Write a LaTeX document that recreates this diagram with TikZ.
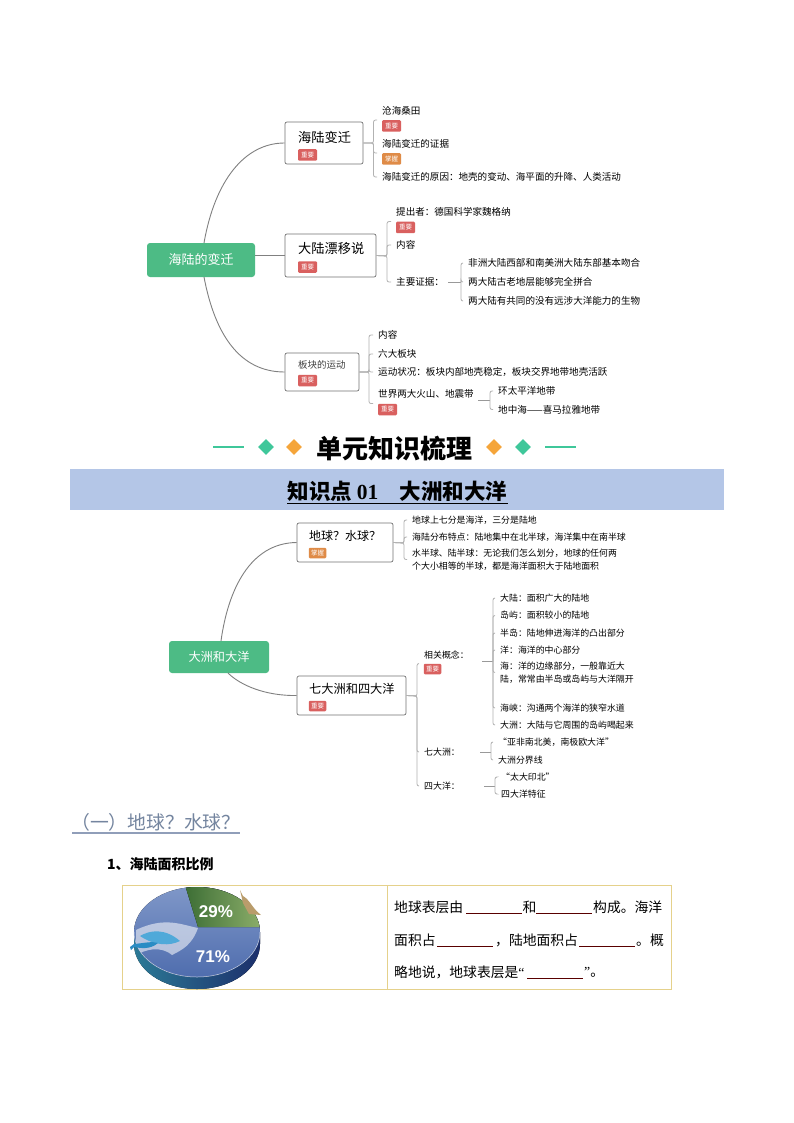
\documentclass[tikz,border=0pt]{standalone}
\usepackage{fontspec}
\usepackage{xcolor}
\setmainfont{Noto Sans CJK SC}
\newfontfamily\latinserif{Liberation Serif}
\newfontfamily\latinsans{Liberation Sans}
\usetikzlibrary{shapes.geometric, positioning}
\definecolor{rootgreen}{HTML}{4DBB85}
\definecolor{tagred}{HTML}{D9605F}
\definecolor{tagorange}{HTML}{DF8B47}
\definecolor{decogreen}{HTML}{3FC79A}
\definecolor{decoorange}{HTML}{F5A53A}
\definecolor{bandblue}{HTML}{B4C6E7}
\definecolor{tablegold}{HTML}{E5D18B}
\definecolor{slate}{HTML}{74859F}
\definecolor{seatop}{HTML}{7F97C8}
\definecolor{seamid}{HTML}{4F6DAE}
\definecolor{sidedark}{HTML}{1C2F6B}
\definecolor{sideteal}{HTML}{2C7A96}
\definecolor{forestdark}{HTML}{3D6E35}
\definecolor{forestlight}{HTML}{8CAE6A}
\definecolor{whalecol}{HTML}{4FA9D9}
\definecolor{dolphincol}{HTML}{2A8CC4}
\definecolor{roocol}{HTML}{B99C6B}
\newcommand{\fsz}[2]{\fontsize{#1}{#2}\selectfont}
\tikzset{
    rootbox/.style={fill=rootgreen, rounded corners=3pt, text=white, font=\fsz{13}{15}, inner sep=0pt},
    topicbox/.style={draw=black!55, fill=white, rounded corners=2pt, line width=0.7pt},
    topictext/.style={anchor=west, inner sep=0pt, font=\fsz{13.2}{16}},
    tag/.style={fill=tagred, rounded corners=1.2pt, text=white, font=\fsz{6.5}{7}, minimum width=19pt, minimum height=11.5pt, inner sep=0pt},
    tagb/.style={tag, minimum width=17.5pt, minimum height=10.5pt},
    item/.style={anchor=west, inner sep=0pt, font=\fsz{9.55}{13}, align=left},
    itemb/.style={item, font=\fsz{8.9}{13}},
    bough/.style={draw=black!50, line width=0.9pt},
    twig/.style={draw=black!30, line width=0.8pt, rounded corners=2pt, shorten >=5pt},
    stem/.style={draw=black!40, line width=0.8pt},
    tablerule/.style={draw=tablegold, line width=0.8pt},
    blank/.style={draw=red!35!black, line width=0.7pt},
    bodytext/.style={anchor=west, inner sep=0pt, font=\fsz{13.8}{16}},
    deco/.style={diamond, minimum width=16pt, minimum height=16pt, inner sep=0pt},
}

\begin{document}
\begin{tikzpicture}[x=1pt, y=-1pt]
    \useasboundingbox (0, 0) rectangle (794, 1123);
    \fill[white] (0, 0) rectangle (794, 1123);

    % first map
    \node[rootbox, minimum width=108pt, minimum height=34pt] (bian) at (201, 260) {海陆的变迁};
    \node[topicbox, minimum width=78pt, minimum height=42pt] (bq) at (324, 143) {};
    \node[topictext] (bqt) at (298, 137) {海陆变迁};
    \node[tag] (bqg) at (307.5, 155) {重要};
    \node[topicbox, minimum width=91pt, minimum height=43pt] (pl) at (330.5, 255.5) {};
    \node[topictext] (plt) at (298, 249) {大陆漂移说};
    \node[tag] (plg) at (307.5, 267) {重要};
    \node[topicbox, minimum width=74pt, minimum height=38pt] (bk) at (322, 372) {};
    \node[topictext, font=\fsz{9.5}{12}, text=black!75] (bkt) at (298, 365) {板块的运动};
    \node[tag] (bkg) at (307.5, 380.5) {重要};

    \draw[bough] (204, 243) .. controls (215, 180) and (245, 143) .. (bq.west);
    \draw[bough] (bian.east |- pl.west) -- (pl.west);
    \draw[bough] (204, 277) .. controls (215, 335) and (240, 372) .. (bk.west);

    \node[item] (a1) at (382, 111) {沧海桑田};
    \node[tag] (a1g) at (391.5, 126) {重要};
    \node[item] (a2) at (382, 144) {海陆变迁的证据};
    \node[tag, fill=tagorange] (a2g) at (391.5, 159) {掌握};
    \node[item] (a3) at (382, 177) {海陆变迁的原因：地壳的变动、海平面的升降、人类活动};
    \coordinate (abar) at (373.5, 143);
    \foreach \t in {a1g.north, a2g.north, a3.west} {
        \draw[twig] (bq.east) -- (abar) -- (abar |- \t) -- (382, 0 |- \t);
    }
    \node[item] (b1) at (396, 212) {提出者：德国科学家魏格纳};
    \node[tag] (b1g) at (405.5, 227.5) {重要};
    \node[item] (b2) at (396, 245) {内容};
    \node[item] (b3) at (396, 282) {主要证据：};
    \coordinate (bbar) at (387, 256);
    \foreach \t in {b1g.north, b2.west, b3.west} {
        \draw[twig] (pl.east) -- (bbar) -- (bbar |- \t) -- (396, 0 |- \t);
    }
    \node[item] (c1) at (468, 263) {非洲大陆西部和南美洲大陆东部基本吻合};
    \node[item] (c2) at (468, 282) {两大陆古老地层能够完全拼合};
    \node[item] (c3) at (468, 301) {两大陆有共同的没有远涉大洋能力的生物};
    \coordinate (cbar) at (461, 282);
    \draw[stem] (448, 282) -- (cbar);
    \foreach \t in {c1, c2, c3} {
        \draw[twig] (cbar) -- (cbar |- \t.west) -- (\t.west);
    }
    \node[item] (d1) at (378, 335) {内容};
    \node[item] (d2) at (378, 354) {六大板块};
    \node[item] (d3) at (378, 372) {运动状况：板块内部地壳稳定，板块交界地带地壳活跃};
    \node[item] (d4) at (378, 394) {世界两大火山、地震带};
    \node[tag] (d4g) at (387.5, 409.5) {重要};
    \coordinate (dbar) at (369, 372);
    \foreach \t in {d1.west, d2.west, d3.west, d4g.north} {
        \draw[twig] (bk.east) -- (dbar) -- (dbar |- \t) -- (378, 0 |- \t);
    }
    \node[item] (e1) at (498, 391) {环太平洋地带};
    \node[item] (e2) at (498, 409.5) {地中海——喜马拉雅地带};
    \coordinate (ebar) at (490, 400);
    \draw[stem] (478, 400) -- (ebar);
    \foreach \t in {e1, e2} {
        \draw[twig] (ebar) -- (ebar |- \t.west) -- (\t.west);
    }

    % headings
    \node[inner sep=0pt, font=\fsz{26}{28}\bfseries] (head) at (394, 449) {单元知识梳理};
    \node[deco, fill=decoorange] (dol) at (294, 447) {};
    \node[deco, fill=decogreen] (dgl) at (266, 447) {};
    \node[deco, fill=decoorange] (dor) at (494, 447) {};
    \node[deco, fill=decogreen] (dgr) at (523, 447) {};
    \draw[decogreen, line width=1.3pt] (213, 447) -- (244, 447);
    \draw[decogreen, line width=1.3pt] (545, 447) -- (576, 447);
    \fill[bandblue] (70, 469) rectangle (724, 510);
    \node[inner sep=0pt, font=\fsz{21.5}{24}\bfseries] (point) at (397.5, 491) {知识点 {\latinserif 01}　大洲和大洋};
    \draw[black, line width=0.9pt] (point.west |- 0, 503) -- (point.east |- 0, 503);

    % second map
    \node[rootbox, font=\fsz{12.2}{14}, minimum width=100pt, minimum height=32pt] (zhou) at (219, 657) {大洲和大洋};
    \node[topicbox, minimum width=96pt, minimum height=39pt] (dq) at (345, 542.5) {};
    \node[topictext, font=\fsz{12}{14}] (dqt) at (309, 536) {地球？水球？};
    \node[tagb, fill=tagorange] (dqg) at (317.5, 553) {掌握};
    \node[topicbox, minimum width=109pt, minimum height=39pt] (qd) at (351.5, 695.5) {};
    \node[topictext, font=\fsz{12.2}{14}] (qdt) at (309, 689) {七大洲和四大洋};
    \node[tagb] (qdg) at (317.5, 706) {重要};

    \draw[bough] (221, 641) .. controls (228, 590) and (250, 543) .. (dq.west);
    \draw[bough] (228, 673) .. controls (240, 685) and (265, 696) .. (qd.west);

    \node[itemb] (f1) at (412, 520) {地球上七分是海洋，三分是陆地};
    \node[itemb] (f2) at (412, 537) {海陆分布特点：陆地集中在北半球，海洋集中在南半球};
    \node[itemb] (f3) at (412, 559.5) {水半球、陆半球：无论我们怎么划分，地球的任何两\\个大小相等的半球，都是海洋面积大于陆地面积};
    \coordinate (fbar) at (404, 543);
    \foreach \t in {f1, f2, f3} {
        \draw[twig] (dq.east) -- (fbar) -- (fbar |- \t.west) -- (412, 0 |- \t.west);
    }
    \node[itemb] (g1) at (424, 655) {相关概念：};
    \node[tagb] (g1g) at (432.5, 669) {重要};
    \node[itemb] (g2) at (424, 752) {七大洲：};
    \node[itemb] (g3) at (424, 786) {四大洋：};
    \coordinate (gbar) at (417, 696);
    \foreach \t in {g1g.north, g2.west, g3.west} {
        \draw[twig] (qd.east) -- (gbar) -- (gbar |- \t) -- (424, 0 |- \t);
    }
    \node[itemb] (h1) at (500, 598) {大陆：面积广大的陆地};
    \node[itemb] (h2) at (500, 615.5) {岛屿：面积较小的陆地};
    \node[itemb] (h3) at (500, 633) {半岛：陆地伸进海洋的凸出部分};
    \node[itemb] (h4) at (500, 650) {洋：海洋的中心部分};
    \node[itemb] (h5) at (500, 672.5) {海：洋的边缘部分，一般靠近大\\陆，常常由半岛或岛屿与大洋隔开};
    \node[itemb] (h6) at (500, 708) {海峡：沟通两个海洋的狭窄水道};
    \node[itemb] (h7) at (500, 725) {大洲：大陆与它周围的岛屿喝起来};
    \coordinate (hbar) at (493, 661);
    \draw[stem] (482, 661) -- (hbar);
    \foreach \t in {h1, h2, h3, h4, h5, h6, h7} {
        \draw[twig] (hbar) -- (hbar |- \t.west) -- (\t.west);
    }
    \node[itemb] (j1) at (498, 742) {“亚非南北美，南极欧大洋”};
    \node[itemb] (j2) at (498, 760) {大洲分界线};
    \coordinate (jbar) at (491, 752);
    \draw[stem] (480, 752) -- (jbar);
    \foreach \t in {j1, j2} {
        \draw[twig] (jbar) -- (jbar |- \t.west) -- (\t.west);
    }
    \node[itemb] (k1) at (501, 777) {“太大印北”};
    \node[itemb] (k2) at (501, 794) {四大洋特征};
    \coordinate (kbar) at (495, 786);
    \draw[stem] (484, 786) -- (kbar);
    \foreach \t in {k1, k2} {
        \draw[twig] (kbar) -- (kbar |- \t.west) -- (\t.west);
    }

    % section title
    \node[anchor=west, inner sep=0pt, text=slate, font=\fsz{18.8}{20}] (sect) at (71, 822) {（一）地球？水球？};
    \draw[bandblue!80!black, line width=2.6pt] (72, 833) -- (240, 833);
    \node[anchor=west, inner sep=0pt, font=\fsz{14}{16}\bfseries] (ratio) at (107, 864) {1、海陆面积比例};

    % table
    \draw[tablerule] (122.5, 885) rectangle (671, 989.5);
    \draw[tablerule] (387, 885) -- (387, 989.5);
    \node[bodytext] (l1a) at (394, 907) {地球表层由};
    \node[bodytext] (l1b) at (522.5, 907) {和};
    \node[bodytext] (l1c) at (593, 907) {构成。海洋};
    \node[bodytext] (l2a) at (394, 940) {面积占};
    \node[bodytext] (l2b) at (495, 940) {，陆地面积占};
    \node[bodytext] (l2c) at (636, 940) {。概};
    \node[bodytext] (l3a) at (394, 972) {略地说，地球表层是{\latinserif “}};
    \node[bodytext] (l3b) at (584, 972) {{\latinserif ”}。};
    \draw[blank] (466, 913.5) -- (522, 913.5);
    \draw[blank] (536, 913.5) -- (592, 913.5);
    \draw[blank] (437, 946) -- (493, 946);
    \draw[blank] (579, 946) -- (635, 946);
    \draw[blank] (527, 978) -- (583, 978);

    % pie picture
    \fill[left color=sideteal, right color=sidedark] (134, 932) -- (134, 944) arc (180:360:63pt and 45pt) -- (260, 932) -- cycle;
    \begin{scope}
        \clip (197, 932) ellipse (63pt and 45pt);
        \fill[top color=seatop, bottom color=seamid] (134, 887) rectangle (260, 977);
        \fill[white, opacity=0.55] (136, 930) .. controls (165, 916) and (182, 925) .. (198, 928) .. controls (192, 945) and (182, 950) .. (172, 955) .. controls (160, 945) and (145, 950) .. (136, 955) -- cycle;
        \fill[left color=forestdark, right color=forestlight] (185, 885) -- (198, 927) -- (262, 927) -- (262, 885) -- cycle;
    \end{scope}
    \draw[white!60!seatop, line width=0.5pt] (134, 932) arc (180:360:63pt and 45pt);
    \fill[whalecol] (140, 936) .. controls (150, 930) and (165, 928) .. (180, 941) .. controls (170, 946) and (155, 946) .. (140, 936) -- cycle;
    \fill[dolphincol] (130, 947) -- (134, 944) .. controls (145, 943) and (152, 941) .. (158, 943) .. controls (150, 950) and (140, 948) .. (134, 947) -- (131, 950) -- cycle;
    \fill[roocol] (240, 890) -- (243, 896) .. controls (250, 900) and (252, 908) .. (261, 915) -- (249, 914) -- (243, 903) -- cycle;
    \node[inner sep=0pt, text=white, font=\latinsans\fsz{17}{19}\bfseries] (land) at (216, 912) {29\%};
    \node[inner sep=0pt, text=white, font=\latinsans\fsz{17}{19}\bfseries] (sea) at (213, 957) {71\%};
\end{tikzpicture}
\end{document}
